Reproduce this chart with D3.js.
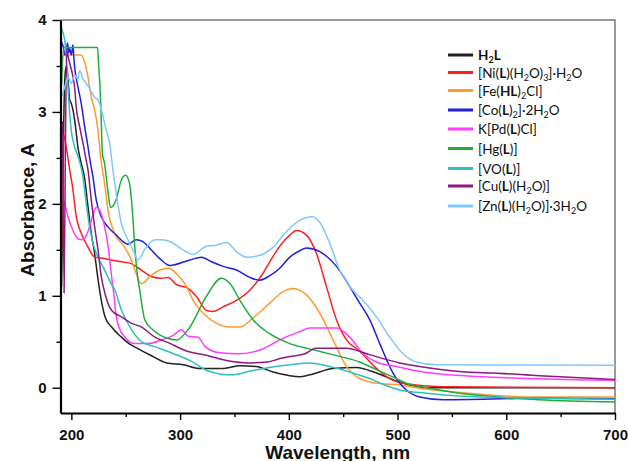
<!DOCTYPE html>
<html>
<head>
<meta charset="utf-8">
<script src="https://cdn.jsdelivr.net/npm/d3@7"></script>
<style>
body { margin: 0; background: #fff; }
</style>
</head>
<body>
<div id="chart"></div>
<script>
// Legend names: "_" = next char is subscript, "*" toggles bold
var names = ["*H_2L*", "[Ni(*L*)(H_2O)_3]·H_2O", "[Fe(*HL*)_2Cl]", "[Co(*L*)_2]·2H_2O",
             "K[Pd(*L*)Cl]", "[Hg(*L*)]", "[VO(*L*)]", "[Cu(*L*)(H_2O)]", "[Zn(*L*)(H_2O)]·3H_2O"];
var colors = ["#222222", "#ff1f1f", "#ff9a2e", "#1f1fe0", "#ff3cff", "#1fae3c", "#2fbfbf", "#8c1a80", "#7fc8ff"];

// axis ticks
var xMajor = [200, 300, 400, 500, 600, 700];
var xMinor = [250, 350, 450, 550, 650];
var yMajor = [0, 1, 2, 3, 4];
var yMinor = [0.5, 1.5, 2.5, 3.5];

// spectra: [wavelength (nm), absorbance]
var h2l = [[191,1.1],[192,2.0],[193,2.9],[194.5,3.45],[195.7,3.5],[197,3.34],[198.5,3.13],[200,3.09],[201.5,3.02],
  [203,2.91],[204.5,2.77],[206,2.62],[208.5,2.47],[212,2.29],[215.3,1.97],[218.3,1.68],[221.4,1.46],[223.8,1.24],
  [226,1.06],[231,0.77],[237,0.66],[246,0.55],[253,0.48],[262,0.42],[275,0.34],[287.6,0.27],[302.8,0.25],[318,0.21],
  [340,0.21],[355,0.24],[370,0.23],[385.6,0.17],[400.9,0.13],[410,0.12],[419.3,0.14],[440.7,0.21],[462,0.22],
  [480.6,0.16],[502,0.06],[526,0.0],[560,0.0],[700,0.0]];
var ni = [[191,1.5],[192,2.5],[193,2.75],[195.5,2.6],[198.5,2.37],[201.5,2.15],[204.5,1.86],[209.1,1.68],[215.3,1.53],
  [221.4,1.42],[227.5,1.41],[236.7,1.39],[245.9,1.37],[255.1,1.35],[264.3,1.28],[273.4,1.21],[282.6,1.19],[289,1.2],
  [296.8,1.12],[306,1.09],[315.2,0.99],[324.4,0.84],[330.4,0.83],[339.6,0.88],[351.9,0.95],[364.1,1.06],[376,1.24],
  [383,1.38],[391.7,1.54],[400.9,1.66],[407,1.71],[416.2,1.66],[425.4,1.46],[434.6,1.10],[443.8,0.74],[453,0.52],
  [465,0.4],[480.6,0.21],[495.8,0.08],[517,0.03],[548,0.01],[700,0.0]];
var fe = [[190,3.5],[193,3.62],[209,3.62],[212.2,3.54],[215.3,3.38],[218.3,3.16],[221.4,3.02],[224.5,2.80],[227,2.5],
  [230.6,2.22],[233.7,1.93],[239.8,1.68],[249,1.53],[255.1,1.39],[259.7,1.24],[264.3,1.13],[272.2,1.21],[281.4,1.28],
  [289.1,1.30],[296.8,1.24],[306,1.10],[312,0.95],[321.2,0.81],[333.5,0.70],[345.8,0.66],[355,0.66],[367.2,0.76],
  [382.5,0.92],[394,1.04],[404,1.08],[416.2,1.01],[428.5,0.81],[440.7,0.52],[453,0.23],[465.2,0.10],[480.6,0.05],
  [502,0.03],[523.4,-0.01],[548,-0.04],[621.4,-0.10],[700,-0.10]];
var co = [[190,3.78],[192.3,3.72],[194,3.62],[195.3,3.66],[196.5,3.75],[197.5,3.64],[198.5,3.69],[200,3.62],[201.5,3.73],
  [202.2,3.6],[203,3.49],[206.1,3.27],[209.1,3.09],[212.2,2.84],[215.3,2.62],[216.8,2.5],[219.9,2.29],[222.9,2.04],
  [227.5,1.86],[233.7,1.75],[241.3,1.66],[247.4,1.59],[252,1.56],[259.7,1.61],[265.8,1.59],[273.4,1.50],[282.6,1.39],
  [290.6,1.33],[309,1.39],[319.8,1.42],[328.9,1.37],[339.6,1.32],[351.9,1.28],[364.1,1.20],[373.3,1.17],[382.5,1.22],
  [391.7,1.30],[400.9,1.42],[410,1.49],[416.2,1.52],[428.5,1.48],[443.8,1.32],[456,1.10],[465.2,0.92],[474.4,0.74],
  [483.6,0.48],[495.8,0.16],[508.1,-0.025],[520.4,-0.10],[541.8,-0.13],[630.6,-0.115],[700,-0.12]];
var pd = [[191,2.1],[193.9,2.0],[196.9,1.86],[201.5,1.71],[206.1,1.62],[210.7,1.61],[215.3,1.70],[219.9,1.88],[222.9,1.96],
  [226,1.93],[230.6,1.75],[233.9,1.53],[236.7,1.24],[239.2,1.0],[241,0.8],[244,0.65],[249.3,0.55],[258.5,0.48],
  [270.7,0.48],[283,0.52],[293.7,0.57],[301.4,0.63],[307.4,0.56],[316.6,0.55],[322.8,0.45],[336.5,0.38],[355,0.37],
  [373.3,0.41],[391.7,0.52],[400.9,0.57],[410.1,0.61],[419.3,0.65],[443.8,0.65],[456,0.55],[468.3,0.37],[480.6,0.28],
  [498.9,0.23],[523.4,0.17],[548,0.14],[621.4,0.10],[700,0.08]];
var hg = [[191,3.3],[193,3.7],[224,3.7],[225,3.53],[227,3.09],[228.5,2.55],[230.5,2.44],[233.5,2.15],[236,1.96],[241,2.04],
  [246,2.26],[250,2.31],[253.5,2.22],[256.5,1.86],[258.5,1.5],[261,1.2],[263,1.05],[267.5,0.74],[275,0.63],[287.5,0.54],
  [297,0.52],[309,0.66],[324,0.99],[338,1.19],[346,1.13],[355,0.95],[367,0.74],[382,0.59],[401,0.48],[420,0.42],
  [440,0.36],[465,0.28],[480,0.2],[495,0.12],[510,0.04],[527,0.0],[557,-0.06],[603,-0.11],[630,-0.13],[700,-0.155]];
var vo = [[190,3.96],[190.7,3.92],[193.9,3.78],[195.3,3.60],[196.9,3.27],[198.5,2.98],[199.9,2.80],[203,2.62],[206,2.52],
  [210.7,2.29],[213.7,2.0],[216.8,1.75],[219.9,1.57],[224.5,1.42],[230.6,1.28],[236.7,1.13],[240.1,1.06],[246.2,0.84],
  [255.4,0.63],[264.6,0.50],[276,0.45],[294,0.37],[310,0.29],[324,0.19],[336.5,0.15],[348,0.14],[364,0.18],[382,0.22],
  [400.9,0.25],[419.3,0.27],[437.7,0.23],[456,0.17],[474.4,0.10],[486,0.04],[502,-0.025],[526.5,-0.06],[557,-0.09],
  [630,-0.115],[700,-0.125]];
var cu = [[192,2.9],[193.3,1.03],[194.5,2.6],[195.7,3.67],[197,3.6],[198.5,3.53],[201.5,3.38],[203,3.27],[204.5,3.05],
  [207.6,2.84],[210.7,2.66],[213.7,2.47],[215.3,2.37],[218.3,2.04],[221.4,1.75],[224.5,1.50],[227.5,1.21],[231,1.02],
  [237.1,0.84],[246.2,0.77],[255.4,0.70],[264.6,0.66],[276.8,0.55],[289,0.49],[306,0.40],[325,0.35],[345,0.29],
  [362,0.27],[380,0.28],[393,0.32],[401,0.34],[415,0.37],[425,0.43],[453,0.43],[474,0.36],[502,0.27],[532.6,0.21],
  [563.3,0.17],[587.7,0.16],[630.6,0.13],[700,0.09]];
var zn = [[190,3.13],[193.9,3.27],[196.9,3.38],[199.9,3.31],[203,3.40],[206.1,3.36],[207.6,3.45],[210.7,3.36],[213.7,3.31],
  [216.8,3.25],[221.4,3.16],[224.5,3.13],[229.1,2.95],[232.1,2.80],[235.2,2.66],[238.2,2.37],[241.3,2.11],[245.9,1.79],
  [252,1.61],[258.2,1.46],[261.2,1.39],[267.4,1.50],[276.6,1.61],[282.6,1.61],[290.6,1.59],[302.8,1.50],[312,1.45],
  [324.4,1.54],[333.5,1.55],[342.7,1.58],[351.9,1.48],[361.1,1.42],[373.3,1.44],[385.6,1.53],[397.9,1.70],[410.1,1.82],
  [420.8,1.86],[428.5,1.80],[437.7,1.57],[446.8,1.28],[456,1.10],[468.3,0.95],[480.6,0.77],[492.8,0.55],[505,0.37],
  [517.3,0.28],[536,0.25],[700,0.245]];

var series = [h2l, ni, fe, co, pd, hg, vo, cu, zn];

// chart box
var W = 628, H = 461;
var box = {left: 60.5, right: 615, top: 20, bottom: 413};

var svg = d3.select("#chart").append("svg")
    .attr("width", W)
    .attr("height", H)
    .style("font-family", "'Liberation Sans', Arial, sans-serif");

var x = d3.scaleLinear().domain([190, 700]).range([box.left, box.right]);
var y = d3.scaleLinear().domain([-0.275, 4]).range([box.bottom, box.top]);

svg.append("clipPath").attr("id", "clip")
  .append("rect")
    .attr("x", box.left).attr("y", box.top)
    .attr("width", box.right - box.left).attr("height", box.bottom - box.top);

// top / right frame (grey)
svg.append("path")
    .attr("d", "M" + box.left + "," + box.top + "H" + box.right + "V" + box.bottom)
    .attr("fill", "none")
    .attr("stroke", "#7a7a7a")
    .attr("stroke-width", 1.5);

// lines
var line = d3.line()
    .x(function(d) { return x(d[0]); })
    .y(function(d) { return y(d[1]); })
    .curve(d3.curveMonotoneX);

svg.append("g").attr("clip-path", "url(#clip)")
  .selectAll("path")
  .data(series)
  .enter().append("path")
    .attr("d", line)
    .attr("fill", "none")
    .attr("stroke", function(d, i) { return colors[i]; })
    .attr("stroke-width", 1.5)
    .attr("stroke-linejoin", "round");

// axes
function styleAxis(g) {
  g.select(".domain").attr("stroke", "#000").attr("stroke-width", 2.2);
  g.selectAll(".tick line").attr("stroke", "#000").attr("stroke-width", 1.4);
  g.selectAll("text").attr("font-size", 15).attr("font-weight", "bold").attr("fill", "#111");
}
function minorTicks(g) {
  g.select(".domain").remove();
  g.selectAll("line").attr("stroke", "#000").attr("stroke-width", 1.4);
}

var xAxis = svg.append("g").attr("transform", "translate(0," + box.bottom + ")")
  .call(d3.axisBottom(x).tickValues(xMajor).tickSize(7).tickSizeOuter(0).tickPadding(9).tickFormat(d3.format("d")));
styleAxis(xAxis);
svg.append("g").attr("transform", "translate(0," + box.bottom + ")")
  .call(d3.axisBottom(x).tickValues(xMinor).tickSize(4).tickSizeOuter(0).tickFormat(""))
  .call(minorTicks);

var yAxis = svg.append("g").attr("transform", "translate(" + box.left + ",0)")
  .call(d3.axisLeft(y).tickValues(yMajor).tickSize(8).tickSizeOuter(0).tickPadding(6).tickFormat(d3.format("d")));
styleAxis(yAxis);
svg.append("g").attr("transform", "translate(" + box.left + ",0)")
  .call(d3.axisLeft(y).tickValues(yMinor).tickSize(4).tickSizeOuter(0).tickFormat(""))
  .call(minorTicks);

// axis titles
svg.append("text")
    .attr("x", (box.left + box.right) / 2)
    .attr("y", 459)
    .attr("text-anchor", "middle")
    .attr("font-size", 19)
    .attr("font-weight", "bold")
    .attr("fill", "#111")
    .text("Wavelength, nm");

svg.append("text")
    .attr("transform", "translate(34,210) rotate(-90)")
    .attr("text-anchor", "middle")
    .attr("font-size", 19)
    .attr("font-weight", "bold")
    .attr("fill", "#111")
    .text("Absorbance, A");

// legend
function richText(t, str) {
  var runs = [], bold = false;
  for (var i = 0; i < str.length; i++) {
    var c = str[i], sub = false;
    if (c === "*") { bold = !bold; continue; }
    if (c === "_") { sub = true; c = str[++i]; }
    var last = runs[runs.length - 1];
    if (last && last.bold === bold && last.sub === sub) last.t += c;
    else runs.push({t: c, bold: bold, sub: sub});
  }
  var shift = 0;
  runs.forEach(function(r) {
    var want = r.sub ? 3 : 0;
    t.append("tspan")
      .attr("dy", want - shift)
      .attr("font-size", r.sub ? 9 : 13.5)
      .attr("font-weight", r.bold ? "bold" : "normal")
      .text(r.t);
    shift = want;
  });
}

var legendY = [55, 72.5, 90.5, 110, 129, 148.5, 168.5, 186, 206];
var legend = svg.append("g").attr("font-family", "Lato, 'Open Sans', sans-serif");
names.forEach(function(n, i) {
  legend.append("line")
      .attr("x1", 448).attr("x2", 473)
      .attr("y1", legendY[i]).attr("y2", legendY[i])
      .attr("stroke", colors[i])
      .attr("stroke-width", 3);
  var t = legend.append("text")
      .attr("x", 478)
      .attr("y", legendY[i] + 5)
      .attr("fill", "#111");
  richText(t, n);
});
</script>
</body>
</html>
